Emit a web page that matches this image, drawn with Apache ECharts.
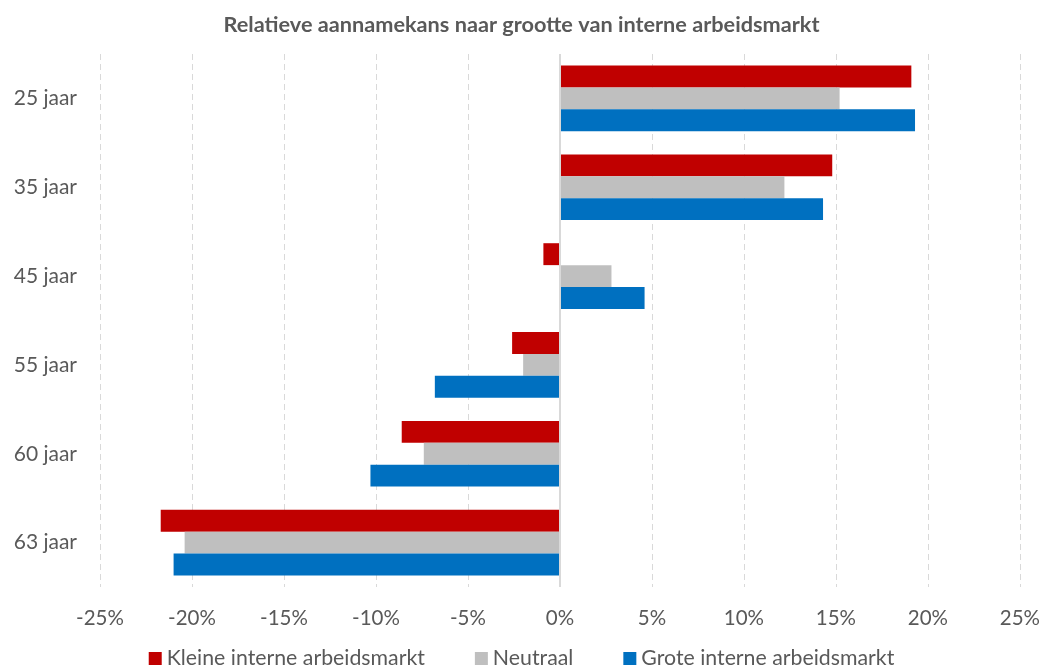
<!DOCTYPE html>
<html>
<head>
<meta charset="utf-8">
<script src="https://cdn.jsdelivr.net/npm/echarts@6/dist/echarts.min.js"></script>
<style>
  html, body { margin: 0; padding: 0; background: #fff; }
  #chart { width: 1043px; height: 668px; }
</style>
</head>
<body>
<div id="chart"></div>
<script>
// Age groups (top to bottom)
const categories = ['25 jaar', '35 jaar', '45 jaar', '55 jaar', '60 jaar', '63 jaar'];

// Relative hiring chance (%) per size of internal labour market
const kleine = [19.1, 14.8, -0.9, -2.6, -8.6, -21.7];
const neutraal = [15.2, 12.2, 2.8, -2.0, -7.4, -20.4];
const grote = [19.3, 14.3, 4.6, -6.8, -10.3, -21.0];

const seriesNames = ['Kleine interne arbeidsmarkt', 'Neutraal', 'Grote interne arbeidsmarkt'];
const colors = ['#C00000', '#BFBFBF', '#0070C0'];

const FONT = "Lato, 'Open Sans', sans-serif";
const TEXT = '#595959';

const chart = echarts.init(document.getElementById('chart'), null, { renderer: 'canvas' });

const values = [kleine, neutraal, grote];
const series = values.map((data, i) => ({
  name: seriesNames[i],
  type: 'bar',
  data: data,
  barGap: '0%',
  barCategoryGap: '26%',
  itemStyle: { color: colors[i] },
  emphasis: { disabled: true },
  markLine: i === 0 ? {
    silent: true,
    symbol: 'none',
    label: { show: false },
    lineStyle: { color: '#d9d9d9', type: 'solid', width: 2 },
    data: [{ xAxis: 0 }]
  } : undefined
}));

chart.setOption({
  animation: false,
  textStyle: { fontFamily: FONT },
  title: {
    text: 'Relatieve aannamekans naar grootte van interne arbeidsmarkt',
    left: 'center',
    top: 9,
    textStyle: { fontFamily: FONT, fontSize: 21.7, fontWeight: 'bold', color: TEXT }
  },
  legend: {
    top: 643,
    left: 'center',
    itemWidth: 13,
    itemHeight: 13,
    itemGap: 50,
    icon: 'rect',
    textStyle: { fontFamily: FONT, fontSize: 21.3, color: TEXT },
    data: seriesNames
  },
  grid: { left: 100, right: 21, top: 54, bottom: 81, containLabel: false },
  xAxis: {
    type: 'value',
    min: -25,
    max: 25,
    interval: 5,
    axisLine: { show: false },
    axisTick: { show: false },
    axisLabel: {
      formatter: v => v + '%',
      fontFamily: FONT, fontSize: 20.5, color: TEXT, margin: 21
    },
    splitLine: { show: true, lineStyle: { color: '#d9d9d9', type: [6, 4], width: 1 } }
  },
  yAxis: {
    type: 'category',
    inverse: true,
    data: categories,
    axisLine: { show: false, onZero: false },
    axisTick: { show: false },
    axisLabel: { fontFamily: FONT, fontSize: 21, color: TEXT, margin: 23 }
  },
  series: series
});
</script>
</body>
</html>
